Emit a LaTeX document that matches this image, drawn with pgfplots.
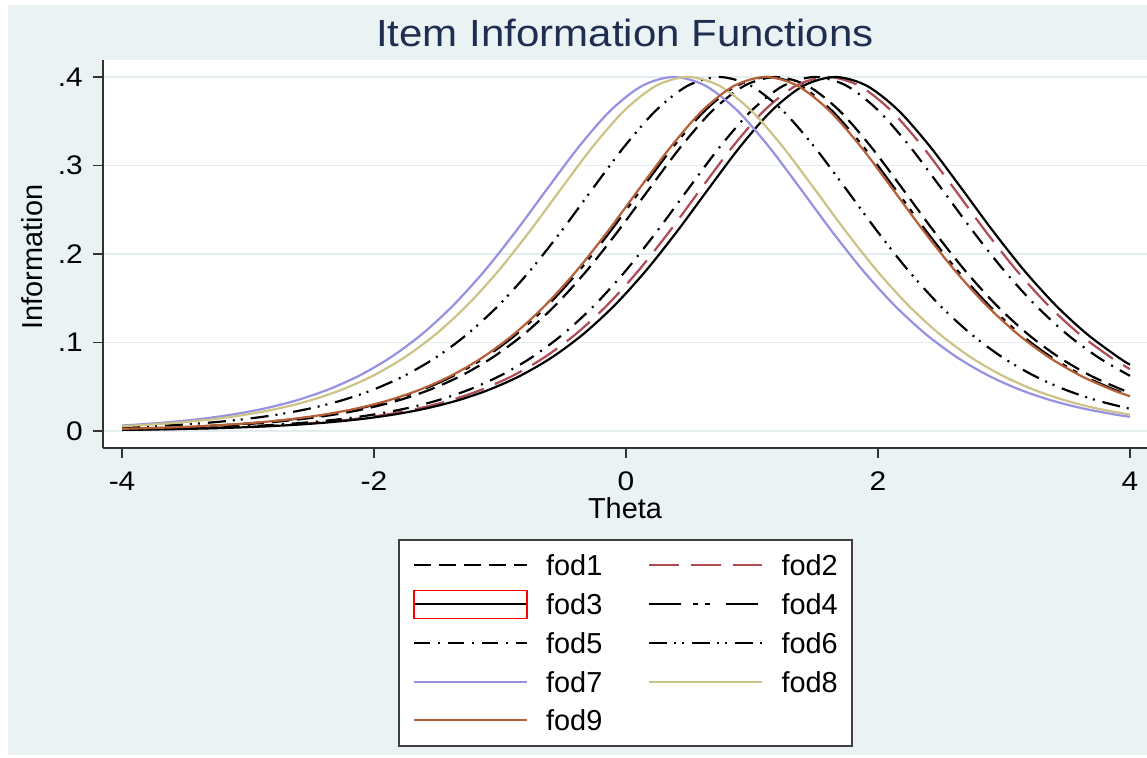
\documentclass[border=0pt]{standalone}
\usepackage{fontspec}
\setmainfont{Liberation Sans}
\newfontfamily\stfont[FakeStretch=1.11]{Liberation Sans}
\usepackage{pgfplots}
\pgfplotsset{compat=1.18}
\definecolor{bgcol}{RGB}{234,242,243}
\definecolor{gridcol}{RGB}{228,238,241}
\definecolor{axcol}{RGB}{50,50,50}
\definecolor{legcol}{RGB}{64,64,64}
\definecolor{titlecol}{RGB}{30,45,80}
\definecolor{cfodtwo}{RGB}{175,75,85}
\definecolor{cfodseven}{RGB}{150,145,225}
\definecolor{cfodeight}{RGB}{205,195,135}
\definecolor{cfodnine}{RGB}{180,95,55}
\pgfplotsset{redbox legend/.style={legend image code/.code={\draw[##1] (0bp,10.5bp) -- (113bp,10.5bp); \draw[overlay, red, solid, line width=1.2bp] (0bp,-4bp) rectangle (113bp,24bp);}}}
\begin{document}
\begin{tikzpicture}
\fill[white] (0,0) rectangle (1147bp,758bp);
\fill[bgcol] (8bp,3bp) rectangle (1147bp,753bp);
\path[use as bounding box] (0,0) rectangle (1147bp,758bp);
\node[anchor=base, font=\stfont\fontsize{38}{42}\selectfont, text=titlecol, inner sep=0pt] at (625bp,711bp) {Item Information Functions};
\begin{axis}[
  at={(103bp,310bp)}, anchor=south west,
  scale only axis, width=1044bp, height=388bp,
  xmin=-4.151, xmax=4.135, ymin=-0.0192, ymax=0.4192,
  axis x line*=bottom, axis y line*=left,
  axis line style={color=axcol, line width=1.8bp},
  xtick={-4,-2,0,2,4}, xticklabels={-4,-2,0,2,4},
  ytick={0,0.1,0.2,0.3,0.4}, yticklabels={0,.1,.2,.3,.4},
  tick align=outside, major tick length=10bp,
  tick style={color=axcol, line width=1.5bp},
  ymajorgrids, major grid style={color=gridcol, line width=1.5bp},
  axis background/.style={fill=white},
  ticklabel style={font=\stfont\fontsize{27}{30}\selectfont, inner sep=0pt},
  xticklabel style={anchor=north, yshift=-14bp},
  yticklabel style={anchor=east, xshift=-10bp},
  xlabel={Theta}, ylabel={Information},
  every axis x label/.style={at={(axis description cs:0.5,0)}, anchor=base, yshift=-70bp, font=\fontsize{29}{32}\selectfont},
  every axis y label/.style={at={(axis description cs:0,0.5)}, xshift=-61bp, yshift=-3bp, rotate=90, anchor=base, font=\fontsize{29}{32}\selectfont},
  legend columns=2,
  legend cell align=left,
  legend style={at={(0.2826,-0.2345)}, anchor=north west, draw=legcol, line width=1.8bp, fill=white,
    inner xsep=14bp, inner ysep=15bp, font=\fontsize{29}{32}\selectfont,
    column sep=18bp, row sep=17.75bp, /tikz/column 2/.style={column sep=46bp},
    nodes={inner sep=0pt, text height=21bp, text depth=0pt, anchor=base west}},
  legend image code/.code={\draw[#1] (0bp,10.5bp) -- (113bp,10.5bp);},
  every axis plot/.append style={line width=2.2bp, no markers, smooth},
]
% fod1 (b = 1.19)
\addplot[black, dash pattern=on 17bp off 8bp] coordinates {
(-4,0.00225) (-3.81,0.00286) (-3.56,0.00391) (-3.31,0.00536) (-3.06,0.00734) (-2.81,0.01003) (-2.56,0.01370) (-2.31,0.01867) (-2.06,0.02539) (-1.81,0.03442) (-1.56,0.04646) (-1.31,0.06234) (-1.06,0.08300) (-0.81,0.10936) (-0.56,0.14212) (-0.31,0.18144) (-0.06,0.22643) (0.19,0.27468) (0.44,0.32196) (0.69,0.36252) (0.94,0.39017) (1.19,0.40000) (1.44,0.39017) (1.69,0.36252) (1.94,0.32196) (2.19,0.27468) (2.44,0.22643) (2.69,0.18144) (2.94,0.14212) (3.19,0.10936) (3.44,0.08300) (3.69,0.06234) (3.94,0.04646) (4,0.04325)};
\addlegendentry{fod1}
% fod2 (b = 1.60)
\addplot[cfodtwo, dash pattern=on 30bp off 12bp] coordinates {
(-4,0.00134) (-3.90,0.00152) (-3.65,0.00208) (-3.40,0.00286) (-3.15,0.00391) (-2.90,0.00536) (-2.65,0.00734) (-2.40,0.01003) (-2.15,0.01370) (-1.90,0.01867) (-1.65,0.02539) (-1.40,0.03442) (-1.15,0.04646) (-0.90,0.06234) (-0.65,0.08300) (-0.40,0.10936) (-0.15,0.14212) (0.10,0.18144) (0.35,0.22643) (0.60,0.27468) (0.85,0.32196) (1.10,0.36252) (1.35,0.39017) (1.60,0.40000) (1.85,0.39017) (2.10,0.36252) (2.35,0.32196) (2.60,0.27468) (2.85,0.22643) (3.10,0.18144) (3.35,0.14212) (3.60,0.10936) (3.85,0.08300) (4,0.06997)};
\addlegendentry{fod2}
% fod3 (b = 1.66)
\addplot[black, solid, redbox legend] coordinates {
(-4,0.00124) (-3.84,0.00152) (-3.59,0.00208) (-3.34,0.00286) (-3.09,0.00391) (-2.84,0.00536) (-2.59,0.00734) (-2.34,0.01003) (-2.09,0.01370) (-1.84,0.01867) (-1.59,0.02539) (-1.34,0.03442) (-1.09,0.04646) (-0.84,0.06234) (-0.59,0.08300) (-0.34,0.10936) (-0.09,0.14212) (0.16,0.18144) (0.41,0.22643) (0.66,0.27468) (0.91,0.32196) (1.16,0.36252) (1.41,0.39017) (1.66,0.40000) (1.91,0.39017) (2.16,0.36252) (2.41,0.32196) (2.66,0.27468) (2.91,0.22643) (3.16,0.18144) (3.41,0.14212) (3.66,0.10936) (3.91,0.08300) (4,0.07495)};
\addlegendentry{fod3}
% fod4 (b = 1.13)
\addplot[black, dash pattern=on 32bp off 12bp on 5bp off 7bp on 5bp off 16bp] coordinates {
(-4,0.00243) (-3.87,0.00286) (-3.62,0.00391) (-3.37,0.00536) (-3.12,0.00734) (-2.87,0.01003) (-2.62,0.01370) (-2.37,0.01867) (-2.12,0.02539) (-1.87,0.03442) (-1.62,0.04646) (-1.37,0.06234) (-1.12,0.08300) (-0.87,0.10936) (-0.62,0.14212) (-0.37,0.18144) (-0.12,0.22643) (0.13,0.27468) (0.38,0.32196) (0.63,0.36252) (0.88,0.39017) (1.13,0.40000) (1.38,0.39017) (1.63,0.36252) (1.88,0.32196) (2.13,0.27468) (2.38,0.22643) (2.63,0.18144) (2.88,0.14212) (3.13,0.10936) (3.38,0.08300) (3.63,0.06234) (3.88,0.04646) (4,0.04025)};
\addlegendentry{fod4}
% fod5 (b = 1.50)
\addplot[black, dash pattern=on 16bp off 8bp on 2bp off 8bp] coordinates {
(-4.00,0.00152) (-3.75,0.00208) (-3.50,0.00286) (-3.25,0.00391) (-3.00,0.00536) (-2.75,0.00734) (-2.50,0.01003) (-2.25,0.01370) (-2.00,0.01867) (-1.75,0.02539) (-1.50,0.03442) (-1.25,0.04646) (-1.00,0.06234) (-0.75,0.08300) (-0.50,0.10936) (-0.25,0.14212) (0.00,0.18144) (0.25,0.22643) (0.50,0.27468) (0.75,0.32196) (1.00,0.36252) (1.25,0.39017) (1.50,0.40000) (1.75,0.39017) (2.00,0.36252) (2.25,0.32196) (2.50,0.27468) (2.75,0.22643) (3.00,0.18144) (3.25,0.14212) (3.50,0.10936) (3.75,0.08300) (4.00,0.06234)};
\addlegendentry{fod5}
% fod6 (b = 0.74)
\addplot[black, dash pattern=on 18bp off 7bp on 2bp off 6bp on 2bp off 8bp] coordinates {
(-4,0.00396) (-3.76,0.00536) (-3.51,0.00734) (-3.26,0.01003) (-3.01,0.01370) (-2.76,0.01867) (-2.51,0.02539) (-2.26,0.03442) (-2.01,0.04646) (-1.76,0.06234) (-1.51,0.08300) (-1.26,0.10936) (-1.01,0.14212) (-0.76,0.18144) (-0.51,0.22643) (-0.26,0.27468) (-0.01,0.32196) (0.24,0.36252) (0.49,0.39017) (0.74,0.40000) (0.99,0.39017) (1.24,0.36252) (1.49,0.32196) (1.74,0.27468) (1.99,0.22643) (2.24,0.18144) (2.49,0.14212) (2.74,0.10936) (2.99,0.08300) (3.24,0.06234) (3.49,0.04646) (3.74,0.03442) (4,0.02508)};
\addlegendentry{fod6}
% fod7 (b = 0.38)
\addplot[cfodseven, solid] coordinates {
(-4,0.00623) (-3.87,0.00734) (-3.62,0.01003) (-3.37,0.01370) (-3.12,0.01867) (-2.87,0.02539) (-2.62,0.03442) (-2.37,0.04646) (-2.12,0.06234) (-1.87,0.08300) (-1.62,0.10936) (-1.37,0.14212) (-1.12,0.18144) (-0.87,0.22643) (-0.62,0.27468) (-0.37,0.32196) (-0.12,0.36252) (0.13,0.39017) (0.38,0.40000) (0.63,0.39017) (0.88,0.36252) (1.13,0.32196) (1.38,0.27468) (1.63,0.22643) (1.88,0.18144) (2.13,0.14212) (2.38,0.10936) (2.63,0.08300) (2.88,0.06234) (3.13,0.04646) (3.38,0.03442) (3.63,0.02539) (3.88,0.01867) (4,0.01609)};
\addlegendentry{fod7}
% fod8 (b = 0.49)
\addplot[cfodeight, solid] coordinates {
(-4,0.00543) (-3.76,0.00734) (-3.51,0.01003) (-3.26,0.01370) (-3.01,0.01867) (-2.76,0.02539) (-2.51,0.03442) (-2.26,0.04646) (-2.01,0.06234) (-1.76,0.08300) (-1.51,0.10936) (-1.26,0.14212) (-1.01,0.18144) (-0.76,0.22643) (-0.51,0.27468) (-0.26,0.32196) (-0.01,0.36252) (0.24,0.39017) (0.49,0.40000) (0.74,0.39017) (0.99,0.36252) (1.24,0.32196) (1.49,0.27468) (1.74,0.22643) (1.99,0.18144) (2.24,0.14212) (2.49,0.10936) (2.74,0.08300) (2.99,0.06234) (3.24,0.04646) (3.49,0.03442) (3.74,0.02539) (4,0.01844)};
\addlegendentry{fod8}
% fod9 (b = 1.11)
\addplot[cfodnine, solid] coordinates {
(-4,0.00249) (-3.89,0.00286) (-3.64,0.00391) (-3.39,0.00536) (-3.14,0.00734) (-2.89,0.01003) (-2.64,0.01370) (-2.39,0.01867) (-2.14,0.02539) (-1.89,0.03442) (-1.64,0.04646) (-1.39,0.06234) (-1.14,0.08300) (-0.89,0.10936) (-0.64,0.14212) (-0.39,0.18144) (-0.14,0.22643) (0.11,0.27468) (0.36,0.32196) (0.61,0.36252) (0.86,0.39017) (1.11,0.40000) (1.36,0.39017) (1.61,0.36252) (1.86,0.32196) (2.11,0.27468) (2.36,0.22643) (2.61,0.18144) (2.86,0.14212) (3.11,0.10936) (3.36,0.08300) (3.61,0.06234) (3.86,0.04646) (4,0.03930)};
\addlegendentry{fod9}
\end{axis}
\end{tikzpicture}
\end{document}
